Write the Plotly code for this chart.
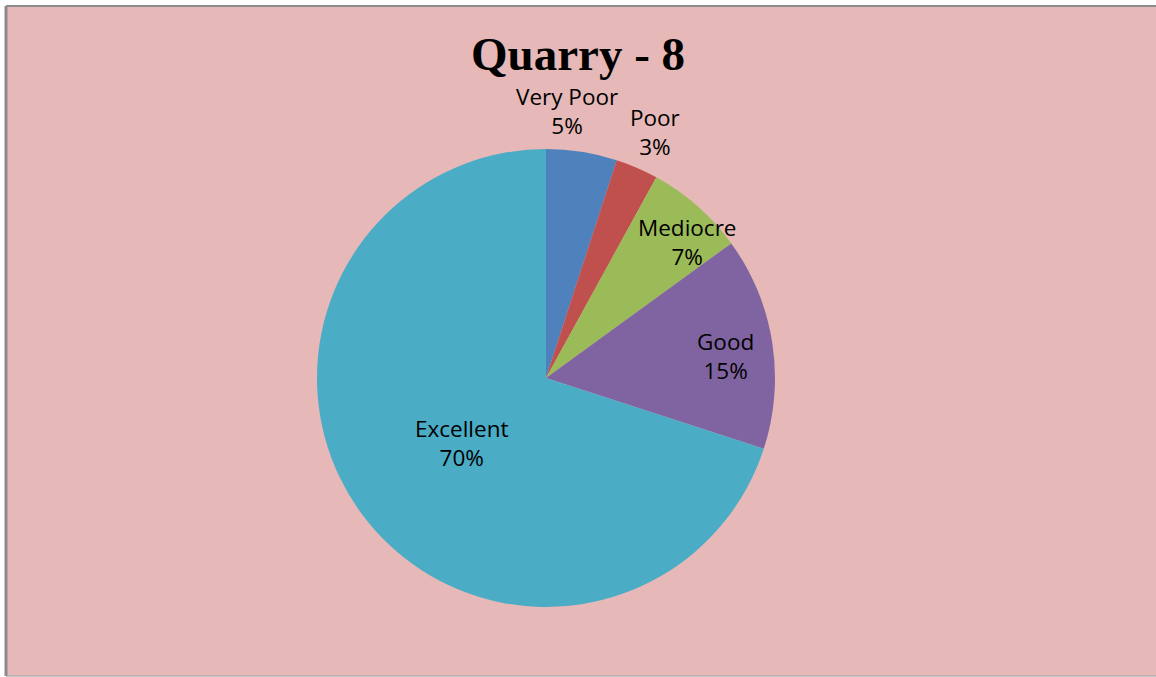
import plotly.graph_objects as go

# Survey shares for Quarry 8
categories = ["Very Poor", "Poor", "Mediocre", "Good", "Excellent"]
shares = [5, 3, 7, 15, 70]
slice_colors = ["#4F81BD", "#C0504D", "#9BBB59", "#8064A2", "#4BACC6"]

W, H = 1156, 677
CX, CY, R = 546, 378, 229  # pie centre / radius in pixels

# label anchor points (pixels), one per category
label_px = [(567, 111), (655, 132), (687, 242), (725, 356), (462, 443)]

fig = go.Figure(
    go.Pie(
        labels=categories,
        values=shares,
        sort=False,
        direction="clockwise",
        rotation=0,
        marker=dict(colors=slice_colors, line=dict(width=0)),
        textinfo="none",
        hoverinfo="label+percent",
        domain=dict(
            x=[(CX - R) / W, (CX + R) / W],
            y=[(H - CY - R) / H, (H - CY + R) / H],
        ),
        showlegend=False,
    )
)

total = sum(shares)
annotations = []
for name, val, (px, py) in zip(categories, shares, label_px):
    annotations.append(
        dict(
            x=px / W, y=1 - py / H, xref="paper", yref="paper",
            text=f"{name}<br>{round(100 * val / total)}%",
            showarrow=False, xanchor="center", yanchor="middle",
            align="center",
            font=dict(family="Open Sans", size=22.5, color="#000000"),
        )
    )

annotations.append(
    dict(
        x=578 / W, y=1 - 54 / H, xref="paper", yref="paper",
        text="<b>Quarry - 8</b>", showarrow=False,
        xanchor="center", yanchor="middle",
        font=dict(family="Liberation Serif", size=47, color="#000000"),
    )
)

# chart-area background and its frame (left, top and bottom edges)
x0, y_top, y_bot = 6 / W, 1 - 6 / H, 1 - 676 / H
frame = dict(color="#8C8C8C", width=2)
shapes = [
    dict(type="rect", xref="paper", yref="paper", x0=x0, x1=1, y0=y_bot,
         y1=y_top, fillcolor="#E6B8B7", line=dict(width=0), layer="below"),
    dict(type="line", xref="paper", yref="paper", x0=x0, x1=1, y0=y_top,
         y1=y_top, line=frame, layer="below"),
    dict(type="line", xref="paper", yref="paper", x0=x0, x1=1, y0=y_bot,
         y1=y_bot, line=dict(color="#B0B0B0", width=1.5), layer="below"),
    dict(type="line", xref="paper", yref="paper", x0=x0, x1=x0, y0=y_bot,
         y1=y_top, line=dict(color="#8C8C8C", width=3), layer="below"),
]

fig.update_layout(
    width=W, height=H,
    margin=dict(l=0, r=0, t=0, b=0),
    paper_bgcolor="#FFFFFF",
    plot_bgcolor="#FFFFFF",
    annotations=annotations,
    shapes=shapes,
)

fig.write_html("out.html")
